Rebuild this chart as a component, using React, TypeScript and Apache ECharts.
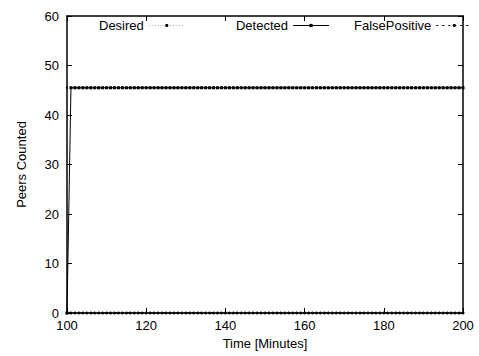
import React, { useEffect, useRef } from "react";
import * as echarts from "echarts";

// Sampling instants, one per minute
const minutes: number[] = [
  100, 101, 102, 103, 104, 105, 106, 107, 108, 109,
  110, 111, 112, 113, 114, 115, 116, 117, 118, 119,
  120, 121, 122, 123, 124, 125, 126, 127, 128, 129,
  130, 131, 132, 133, 134, 135, 136, 137, 138, 139,
  140, 141, 142, 143, 144, 145, 146, 147, 148, 149,
  150, 151, 152, 153, 154, 155, 156, 157, 158, 159,
  160, 161, 162, 163, 164, 165, 166, 167, 168, 169,
  170, 171, 172, 173, 174, 175, 176, 177, 178, 179,
  180, 181, 182, 183, 184, 185, 186, 187, 188, 189,
  190, 191, 192, 193, 194, 195, 196, 197, 198, 199,
  200,
];

const desired: number[] = [
  45.5, 45.5, 45.5, 45.5, 45.5, 45.5, 45.5, 45.5, 45.5, 45.5,
  45.5, 45.5, 45.5, 45.5, 45.5, 45.5, 45.5, 45.5, 45.5, 45.5,
  45.5, 45.5, 45.5, 45.5, 45.5, 45.5, 45.5, 45.5, 45.5, 45.5,
  45.5, 45.5, 45.5, 45.5, 45.5, 45.5, 45.5, 45.5, 45.5, 45.5,
  45.5, 45.5, 45.5, 45.5, 45.5, 45.5, 45.5, 45.5, 45.5, 45.5,
  45.5, 45.5, 45.5, 45.5, 45.5, 45.5, 45.5, 45.5, 45.5, 45.5,
  45.5, 45.5, 45.5, 45.5, 45.5, 45.5, 45.5, 45.5, 45.5, 45.5,
  45.5, 45.5, 45.5, 45.5, 45.5, 45.5, 45.5, 45.5, 45.5, 45.5,
  45.5, 45.5, 45.5, 45.5, 45.5, 45.5, 45.5, 45.5, 45.5, 45.5,
  45.5, 45.5, 45.5, 45.5, 45.5, 45.5, 45.5, 45.5, 45.5, 45.5,
  45.5,
];

const detected: number[] = [
  0, 45.5, 45.5, 45.5, 45.5, 45.5, 45.5, 45.5, 45.5, 45.5,
  45.5, 45.5, 45.5, 45.5, 45.5, 45.5, 45.5, 45.5, 45.5, 45.5,
  45.5, 45.5, 45.5, 45.5, 45.5, 45.5, 45.5, 45.5, 45.5, 45.5,
  45.5, 45.5, 45.5, 45.5, 45.5, 45.5, 45.5, 45.5, 45.5, 45.5,
  45.5, 45.5, 45.5, 45.5, 45.5, 45.5, 45.5, 45.5, 45.5, 45.5,
  45.5, 45.5, 45.5, 45.5, 45.5, 45.5, 45.5, 45.5, 45.5, 45.5,
  45.5, 45.5, 45.5, 45.5, 45.5, 45.5, 45.5, 45.5, 45.5, 45.5,
  45.5, 45.5, 45.5, 45.5, 45.5, 45.5, 45.5, 45.5, 45.5, 45.5,
  45.5, 45.5, 45.5, 45.5, 45.5, 45.5, 45.5, 45.5, 45.5, 45.5,
  45.5, 45.5, 45.5, 45.5, 45.5, 45.5, 45.5, 45.5, 45.5, 45.5,
  45.5,
];

const falsePositive: number[] = [
  0, 0, 0, 0, 0, 0, 0, 0, 0, 0,
  0, 0, 0, 0, 0, 0, 0, 0, 0, 0,
  0, 0, 0, 0, 0, 0, 0, 0, 0, 0,
  0, 0, 0, 0, 0, 0, 0, 0, 0, 0,
  0, 0, 0, 0, 0, 0, 0, 0, 0, 0,
  0, 0, 0, 0, 0, 0, 0, 0, 0, 0,
  0, 0, 0, 0, 0, 0, 0, 0, 0, 0,
  0, 0, 0, 0, 0, 0, 0, 0, 0, 0,
  0, 0, 0, 0, 0, 0, 0, 0, 0, 0,
  0, 0, 0, 0, 0, 0, 0, 0, 0, 0,
  0,
];

const FONT = "'Liberation Sans', Arial, Helvetica, sans-serif";

const pairs = (ys: number[]) => minutes.map((x, i) => [x, ys[i]]);

export default function App() {
  const ref = useRef<HTMLDivElement>(null);

  useEffect(() => {
    if (!ref.current) return;
    const chart = echarts.init(ref.current, undefined, { renderer: "svg" });

    const tickStyle = { show: true, inside: true, length: 5, lineStyle: { color: "#000", width: 1 } };
    const axisLine = { show: true, onZero: false, lineStyle: { color: "#000", width: 1.5 } };
    const label = { color: "#000", fontFamily: FONT, fontSize: 13 };

    const legendCommon = {
      top: 19,
      padding: 0,
      orient: "horizontal" as const,
      align: "right" as const,
      itemWidth: 36,
      itemHeight: 4,
      lineStyle: { width: 1 },
      textStyle: { color: "#000", fontFamily: FONT, fontSize: 13, padding: [0, 0, 0, 0] },
      selectedMode: false,
    };

    chart.setOption({
      animation: false,
      backgroundColor: "#fff",
      grid: { left: 67, right: 16, top: 16, bottom: 43, containLabel: false },
      legend: [
        { ...legendCommon, left: 99, data: ["Desired"] },
        { ...legendCommon, left: 236, data: ["Detected"] },
        { ...legendCommon, left: 354, data: ["FalsePositive"] },
      ],
      xAxis: [
        {
          type: "value",
          min: 100,
          max: 200,
          interval: 20,
          axisLine,
          axisTick: tickStyle,
          axisLabel: { ...label, margin: 6 },
          splitLine: { show: false },
          name: "Time [Minutes]",
          nameLocation: "middle",
          nameGap: 23,
          nameTextStyle: { color: "#000", fontFamily: FONT, fontSize: 13 },
        },
        {
          type: "value",
          position: "top",
          min: 100,
          max: 200,
          interval: 20,
          axisLine,
          axisTick: tickStyle,
          axisLabel: { show: false },
          splitLine: { show: false },
        },
      ],
      yAxis: [
        {
          type: "value",
          min: 0,
          max: 60,
          interval: 10,
          axisLine,
          axisTick: tickStyle,
          axisLabel: { ...label, margin: 8 },
          splitLine: { show: false },
          name: "Peers Counted",
          nameLocation: "middle",
          nameGap: 39,
          nameTextStyle: { color: "#000", fontFamily: FONT, fontSize: 13 },
        },
        {
          type: "value",
          position: "right",
          min: 0,
          max: 60,
          interval: 10,
          axisLine,
          axisTick: tickStyle,
          axisLabel: { show: false },
          splitLine: { show: false },
        },
      ],
      series: [
        {
          name: "Desired",
          type: "line",
          data: pairs(desired),
          symbol: "circle",
          symbolSize: 2,
          showAllSymbol: true,
          itemStyle: { color: "#000" },
          lineStyle: { color: "#aaa", width: 1, type: [1, 2] },
          z: 2,
        },
        {
          name: "Detected",
          type: "line",
          data: pairs(detected),
          symbol: "rect",
          symbolSize: 3,
          showAllSymbol: true,
          itemStyle: { color: "#000" },
          lineStyle: { color: "#000", width: 1 },
          z: 3,
        },
        {
          name: "FalsePositive",
          type: "line",
          data: pairs(falsePositive),
          symbol: "circle",
          symbolSize: 3,
          showAllSymbol: true,
          itemStyle: { color: "#000" },
          lineStyle: { color: "#000", width: 1, type: [2, 4] },
          z: 3,
        },
      ],
    });

    return () => chart.dispose();
  }, []);

  return <div ref={ref} style={{ width: 479, height: 356, position: "absolute", left: 0, top: 0 }} />;
}
